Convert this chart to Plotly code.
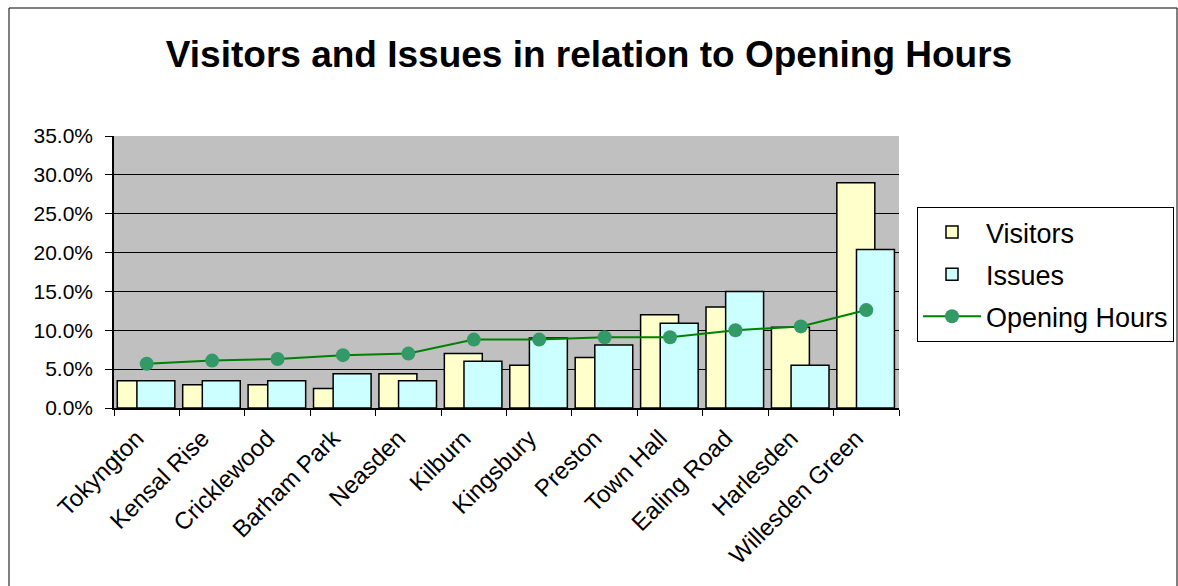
import plotly.graph_objects as go

# Branch libraries, each branch's share of the total
branches = ["Tokyngton", "Kensal Rise", "Cricklewood", "Barham Park", "Neasden",
            "Kilburn", "Kingsbury", "Preston", "Town Hall", "Ealing Road",
            "Harlesden", "Willesden Green"]
visitors = [0.035, 0.030, 0.030, 0.025, 0.044, 0.070, 0.055, 0.065, 0.120, 0.130, 0.104, 0.290]
issues = [0.035, 0.035, 0.035, 0.044, 0.035, 0.060, 0.090, 0.081, 0.109, 0.150, 0.055, 0.204]
opening_hours = [0.057, 0.061, 0.063, 0.068, 0.070, 0.088, 0.088, 0.091, 0.091, 0.100, 0.105, 0.126]
y_ticks = [0.0, 0.05, 0.10, 0.15, 0.20, 0.25, 0.30, 0.35]

FONT = "Liberation Sans, Arial, sans-serif"

fig = go.Figure()
fig.add_trace(go.Bar(
    x=branches, y=visitors, name="Visitors", legendgroup="v",
    offset=-0.45, width=0.58,
    marker=dict(color="#FFFFCC", line=dict(color="black", width=1.5)),
))
fig.add_trace(go.Bar(
    x=branches, y=issues, name="Issues", legendgroup="i",
    offset=-0.15, width=0.58,
    marker=dict(color="#CCFFFF", line=dict(color="black", width=1.5)),
))
fig.add_trace(go.Scatter(
    x=branches, y=opening_hours, name="Opening Hours", legendgroup="o",
    mode="lines+markers",
    line=dict(color="#008000", width=2),
    marker=dict(color="#339966", size=14),
))

W, H = 1178, 586
L, R, T, B = 114, 279, 136, 178
pw, ph = W - L - R, H - T - B

def px_x(x):
    return (x - L) / pw

def px_y(y):
    return (H - B - y) / ph

fig.update_layout(
    width=W, height=H,
    margin=dict(l=L, r=R, t=T, b=B, autoexpand=False),
    paper_bgcolor="white",
    plot_bgcolor="#C0C0C0",
    barmode="overlay",
    font=dict(family=FONT, color="black"),
    title=dict(
        text="<b>Visitors and Issues in relation to Opening Hours</b>",
        font=dict(size=37, family=FONT, color="black"),
        x=0.5, xref="container", xanchor="center",
        y=1 - 54 / H, yref="container", yanchor="middle",
    ),
    legend=dict(
        x=px_x(917), y=px_y(207), xanchor="left", yanchor="top",
        bgcolor="white", bordercolor="black", borderwidth=1,
        font=dict(size=27, family=FONT),
        traceorder="grouped", tracegroupgap=4,
        itemwidth=58,
    ),
    xaxis=dict(
        type="category",
        tickson="boundaries", ticks="outside", ticklen=6, tickcolor="black",
        showline=True, linecolor="black", linewidth=1.5,
        showgrid=False,
        tickangle=-45, tickfont=dict(size=24, family=FONT),
        ticklabelshift=-10, ticklabelstandoff=5,
        range=[-0.5, len(branches) - 0.5],
    ),
    yaxis=dict(
        range=[0, 0.35], tickvals=y_ticks, tickformat=".1%",
        ticks="outside", ticklen=7, tickcolor="black",
        showline=True, linecolor="black", linewidth=1.5,
        showgrid=True, gridcolor="black", gridwidth=1,
        zeroline=False,
        tickfont=dict(size=21, family=FONT),
        ticklabelstandoff=8,
    ),
    shapes=[
        dict(type="rect", xref="paper", yref="paper",
             x0=px_x(9), x1=px_x(1177), y0=px_y(595), y1=px_y(8),
             line=dict(color="black", width=1), fillcolor="rgba(0,0,0,0)",
             layer="below"),
    ],
)

fig.write_html("out.html")
